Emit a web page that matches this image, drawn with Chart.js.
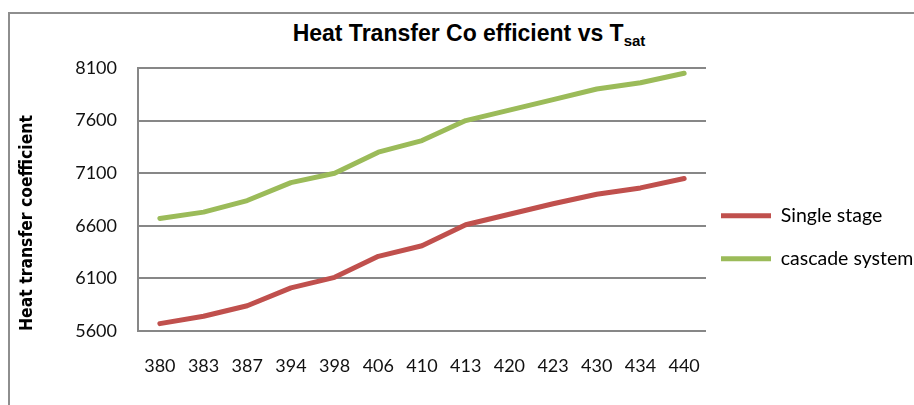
<!DOCTYPE html>
<html>
<head>
<meta charset="utf-8">
<script src="https://cdn.jsdelivr.net/npm/chart.js@4/dist/chart.umd.min.js"></script>
<style>
  html, body { margin: 0; padding: 0; background: #fff; overflow: hidden; }
  #wrap { position: relative; width: 914px; height: 405px; }
  #frame { position: absolute; left: 8px; top: 12px; width: 940px; height: 420px;
           border: 2px solid #8e8e8e; box-sizing: border-box; }
  #title { position: absolute; left: 0; width: 938px; top: 20px; text-align: center; line-height: 1;
           font: bold 23px "Liberation Sans", Arial, sans-serif; color: #000; }
  #title sub { font-size: 15px; vertical-align: -5px; line-height: 1; }
  canvas { position: absolute; left: 0; top: 0; }
</style>
</head>
<body>
<div id="wrap">
  <div id="frame"></div>
  <div id="title">Heat Transfer Co efficient vs T<sub>sat</sub></div>
  <canvas id="htcChart" width="914" height="405"></canvas>
</div>
<script>
// Saturation temperatures on the x axis
const tsatLabels = ["380", "383", "387", "394", "398", "406", "410", "413", "420", "423", "430", "434", "440"];

// Heat transfer coefficient
const singleStage = [5670, 5740, 5840, 6010, 6110, 6310, 6410, 6610, 6710, 6810, 6900, 6960, 7050];
const cascadeSystem = [6670, 6730, 6840, 7010, 7100, 7300, 7410, 7600, 7700, 7800, 7900, 7960, 8050];

const yTicks = [5600, 6100, 6600, 7100, 7600, 8100];

const gridGrey = '#878787';
const tickFont = { family: 'Lato', size: 18 };

const ctx = document.getElementById('htcChart').getContext('2d');
const htcChart = new Chart(ctx, {
  type: 'line',
  data: {
    labels: tsatLabels,
    datasets: [{
      label: 'Single stage',
      data: singleStage,
      borderColor: '#C0504D',
      backgroundColor: '#C0504D',
      borderWidth: 5,
      borderCapStyle: 'round',
      borderJoinStyle: 'round',
      pointRadius: 0,
      tension: 0
    }, {
      label: 'cascade system',
      data: cascadeSystem,
      borderColor: '#9BBB59',
      backgroundColor: '#9BBB59',
      borderWidth: 5,
      borderCapStyle: 'round',
      borderJoinStyle: 'round',
      pointRadius: 0,
      tension: 0
    }]
  },
  options: {
    responsive: false,
    animation: false,
    layout: { padding: { top: 68, left: 10, right: 0, bottom: 0 } },
    scales: {
      x: {
        offset: true,
        grid: { display: false, offset: true },
        border: { display: false },
        ticks: { font: tickFont, color: '#111', padding: 16, maxRotation: 0 },
        afterFit: (scale) => { scale.height = 74; }
      },
      y: {
        min: yTicks[0],
        max: yTicks[yTicks.length - 1],
        afterBuildTicks: (scale) => { scale.ticks = yTicks.map(v => ({ value: v })); },
        grid: { color: gridGrey, lineWidth: 2, drawTicks: false },
        border: { color: gridGrey, width: 2 },
        ticks: { font: tickFont, color: '#111', padding: 21, callback: (v) => String(v) },
        title: {
          display: true,
          text: 'Heat transfer coefficient',
          align: 'start',
          color: '#000',
          font: { family: '"Liberation Sans Narrow", "DejaVu Sans Condensed", sans-serif', size: 17.4, weight: 'bold' },
          padding: { top: 7, bottom: 0 }
        },
        afterFit: (scale) => { scale.width = 128; }
      }
    },
    plugins: {
      title: { display: false },
      tooltip: { enabled: false },
      legend: {
        position: 'right',
        maxWidth: 208,
        title: { display: true, text: ' ', padding: 0, font: { size: 8.4, lineHeight: 1.2 } },
        labels: {
          usePointStyle: true,
          pointStyle: 'line',
          pointStyleWidth: 50,
          padding: 15,
          color: '#000',
          font: { family: 'Lato', size: 19.5, lineHeight: 1.436 },
          generateLabels: (chart) =>
            Chart.defaults.plugins.legend.labels.generateLabels(chart).map(item => ({ ...item, text: [item.text] }))
        }
      }
    }
  }
});
</script>
</body>
</html>
